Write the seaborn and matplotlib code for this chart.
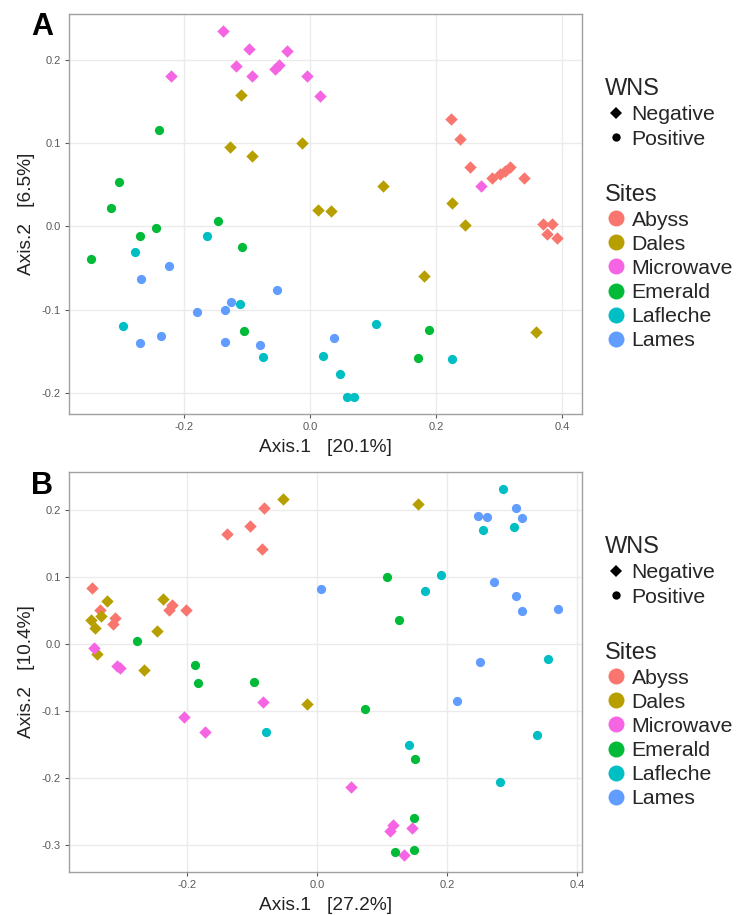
import matplotlib
matplotlib.use("Agg")
import matplotlib.pyplot as plt
from matplotlib.lines import Line2D
import numpy as np
import pandas as pd
import seaborn as sns

# ---- ordination coordinates, panel A ----
a_abyss_x = [0.224, 0.238, 0.254, 0.289, 0.301, 0.310, 0.318, 0.340, 0.370, 0.385, 0.376, 0.392]
a_abyss_y = [0.129, 0.105, 0.071, 0.058, 0.063, 0.067, 0.071, 0.058, 0.003, 0.003, -0.009, -0.014]
a_dales_x = [-0.110, -0.128, -0.092, -0.013, 0.116, 0.013, 0.033, 0.225, 0.246, 0.181, 0.359]
a_dales_y = [0.158, 0.095, 0.084, 0.100, 0.048, 0.020, 0.019, 0.028, 0.002, -0.060, -0.127]
a_micro_x = [-0.138, -0.097, -0.117, -0.092, -0.055, -0.050, -0.036, -0.221, -0.005, 0.016, 0.271]
a_micro_y = [0.235, 0.213, 0.192, 0.181, 0.189, 0.194, 0.211, 0.181, 0.181, 0.156, 0.048]
a_emer_x = [-0.240, -0.303, -0.316, -0.146, -0.244, -0.270, -0.348, -0.108, -0.105, 0.189, 0.172]
a_emer_y = [0.116, 0.053, 0.022, 0.007, -0.002, -0.011, -0.039, -0.025, -0.126, -0.124, -0.158]
a_lafl_x = [-0.164, -0.278, -0.111, -0.298, -0.074, 0.105, 0.021, 0.048, 0.058, 0.070, 0.225]
a_lafl_y = [-0.012, -0.031, -0.093, -0.120, -0.157, -0.117, -0.155, -0.177, -0.205, -0.205, -0.159]
a_lames_x = [-0.224, -0.268, -0.053, -0.179, -0.135, -0.126, -0.270, -0.237, -0.135, -0.079, 0.038]
a_lames_y = [-0.047, -0.063, -0.076, -0.103, -0.100, -0.091, -0.140, -0.131, -0.139, -0.142, -0.134]

# ---- ordination coordinates, panel B ----
b_abyss_x = [-0.346, -0.334, -0.311, -0.314, -0.228, -0.223, -0.202, -0.138, -0.104, -0.081, -0.085]
b_abyss_y = [0.084, 0.051, 0.039, 0.030, 0.051, 0.058, 0.051, 0.164, 0.176, 0.203, 0.142]
b_dales_x = [-0.052, 0.155, -0.323, -0.237, -0.348, -0.333, -0.342, -0.246, -0.339, -0.267, -0.015]
b_dales_y = [0.216, 0.209, 0.064, 0.067, 0.036, 0.042, 0.024, 0.020, -0.015, -0.039, -0.090]
b_micro_x = [-0.343, -0.308, -0.303, -0.205, -0.172, -0.084, 0.052, 0.117, 0.112, 0.146, 0.134]
b_micro_y = [-0.006, -0.033, -0.036, -0.108, -0.131, -0.087, -0.213, -0.270, -0.279, -0.274, -0.315]
b_emer_x = [-0.277, -0.188, -0.183, -0.097, 0.108, 0.126, 0.074, 0.151, 0.149, 0.120, 0.149]
b_emer_y = [0.005, -0.031, -0.058, -0.057, 0.100, 0.036, -0.096, -0.172, -0.260, -0.310, -0.307]
b_lafl_x = [0.286, 0.255, 0.303, 0.191, 0.166, 0.355, -0.079, 0.141, 0.338, 0.282]
b_lafl_y = [0.231, 0.170, 0.175, 0.103, 0.079, -0.022, -0.131, -0.150, -0.136, -0.206]
b_lames_x = [0.248, 0.262, 0.306, 0.315, 0.006, 0.272, 0.306, 0.315, 0.371, 0.251, 0.215]
b_lames_y = [0.192, 0.190, 0.203, 0.189, 0.082, 0.093, 0.072, 0.050, 0.053, -0.027, -0.085]

sites = ["Abyss", "Dales", "Microwave", "Emerald", "Lafleche", "Lames"]
site_status = ["Negative", "Negative", "Negative", "Positive", "Positive", "Positive"]
site_colors = ["#F8766D", "#B79F00", "#F564E3", "#00BA38", "#00BFC4", "#619CFF"]
status_levels = ["Negative", "Positive"]

panel_letters = ["A", "B"]
x_labels = ["Axis.1   [20.1%]", "Axis.1   [27.2%]"]
y_labels = ["Axis.2   [6.5%]", "Axis.2   [10.4%]"]
x_ticks = [-0.2, 0.0, 0.2, 0.4]
y_ticks_a = [-0.2, -0.1, 0.0, 0.1, 0.2]
y_ticks_b = [-0.3, -0.2, -0.1, 0.0, 0.1, 0.2]


def build_frame(xs, ys):
    rows = []
    for site, status, x, y in zip(sites, site_status, xs, ys):
        for xi, yi in zip(x, y):
            rows.append({"Axis.1": xi, "Axis.2": yi, "Sites": site, "WNS": status})
    return pd.DataFrame(rows)


df_a = build_frame([a_abyss_x, a_dales_x, a_micro_x, a_emer_x, a_lafl_x, a_lames_x],
                   [a_abyss_y, a_dales_y, a_micro_y, a_emer_y, a_lafl_y, a_lames_y])
df_b = build_frame([b_abyss_x, b_dales_x, b_micro_x, b_emer_x, b_lafl_x, b_lames_x],
                   [b_abyss_y, b_dales_y, b_micro_y, b_emer_y, b_lafl_y, b_lames_y])

sns.set_theme(style="white")
plt.rcParams["font.family"] = ["Liberation Sans", "DejaVu Sans"]

W, H = 740, 915
fig = plt.figure(figsize=(W / 100, H / 100), dpi=100)


def px_axes(left, top, right, bottom):
    return fig.add_axes([left / W, 1 - bottom / H, (right - left) / W, (bottom - top) / H])


ax_a = px_axes(69, 14, 582, 414)
ax_b = px_axes(69, 472, 582, 872)

palette = dict(zip(sites, site_colors))
marker_map = {"Negative": "D", "Positive": "o"}

grid_col = "#EBEBEB"
border_col = "#A0A0A0"
tick_col = "#5A5A5A"

panels = [
    (ax_a, df_a, (-0.383, 0.432), (-0.225, 0.255), y_ticks_a, 0.967),
    (ax_b, df_b, (-0.382, 0.408), (-0.340, 0.257), y_ticks_b, 0.964),
]

for i, (ax, df, xl, yl, yt, letter_y) in enumerate(panels):
    for site, status in zip(sites, site_status):
        sub = df[df["Sites"] == site]
        sns.scatterplot(data=sub, x="Axis.1", y="Axis.2", ax=ax,
                        color=palette[site], marker=marker_map[status],
                        s=40 if status == "Negative" else 44,
                        linewidth=0, legend=False, zorder=3)
    ax.set_xlim(*xl)
    ax.set_ylim(*yl)
    ax.set_xticks(x_ticks)
    ax.set_yticks(yt)
    ax.set_xticklabels([f"{v:.1f}" for v in x_ticks])
    ax.set_yticklabels([f"{v:.1f}" for v in yt])
    ax.grid(True, color=grid_col, linewidth=1.0, zorder=0)
    ax.set_axisbelow(True)
    for sp in ax.spines.values():
        sp.set_color(border_col)
        sp.set_linewidth(1.0)
    ax.tick_params(axis="both", which="major", length=3, width=0.8,
                   color=tick_col, labelsize=8, labelcolor=tick_col, pad=3,
                   bottom=True, left=True)
    ax.set_xlabel(x_labels[i], fontsize=13.8, color="#222222", labelpad=5)
    ax.set_ylabel(y_labels[i], fontsize=13.8, color="#222222", labelpad=5)
    ax.text(-0.053, letter_y, panel_letters[i], transform=ax.transAxes,
            fontsize=22, fontweight="bold", ha="center", va="center", color="black")

    # legends: infection status (shape) and site (colour)
    wns_handles = [
        Line2D([], [], linestyle="", marker="D", markersize=6, color="black",
               markeredgewidth=0, label="Negative"),
        Line2D([], [], linestyle="", marker="o", markersize=6, color="black",
               markeredgewidth=0, label="Positive"),
    ]
    site_handles = [
        Line2D([], [], linestyle="", marker="o", markersize=11.5, color=c,
               markeredgewidth=0, label=s)
        for s, c in zip(sites, site_colors)
    ]
    common = dict(loc="upper left", frameon=False, fontsize=15.3, title_fontsize=17,
                  alignment="left", borderpad=0, handlelength=1.0,
                  handletextpad=0.25, borderaxespad=0)
    leg1 = ax.legend(handles=wns_handles, title="WNS",
                     bbox_to_anchor=(1.045, 0.841), labelspacing=0.26, **common)
    ax.add_artist(leg1)
    ax.legend(handles=site_handles, title="Sites",
              bbox_to_anchor=(1.045, 0.576), labelspacing=0.24, **common)

fig.savefig("out.png", dpi=100)
